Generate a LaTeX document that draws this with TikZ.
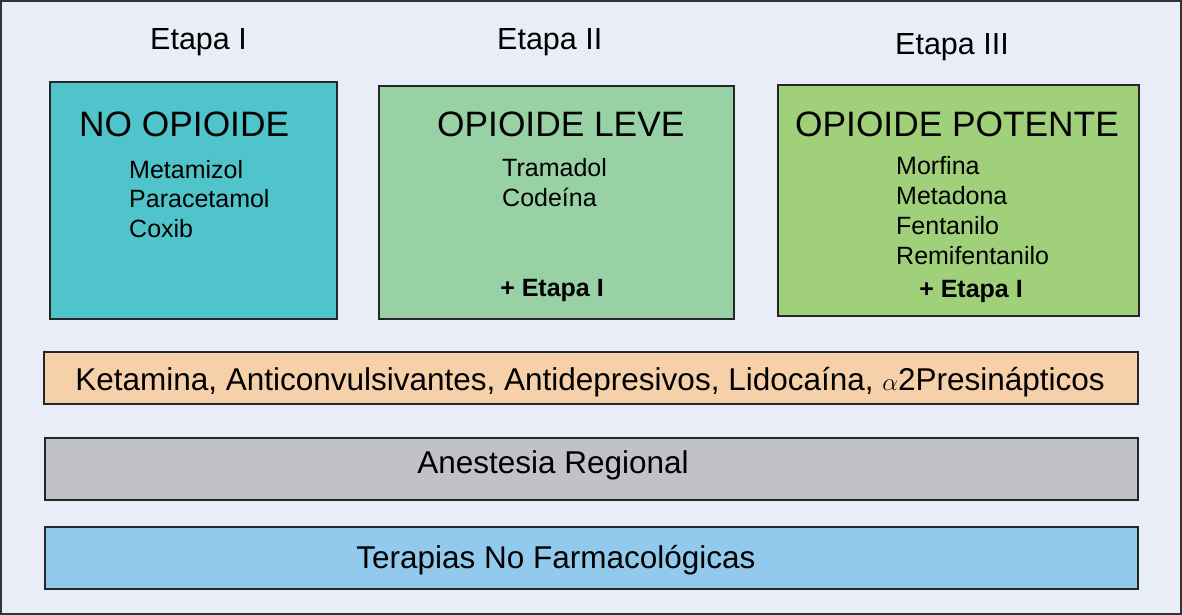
\documentclass[tikz,border=0pt]{standalone}
\usepackage{fontspec}
\setmainfont{Liberation Sans}
\usepackage{xcolor}
\usetikzlibrary{calc,positioning}
\definecolor{fondo}{HTML}{E8EDF7}
\definecolor{noopioide}{HTML}{50C4CB}
\definecolor{leve}{HTML}{98D2A4}
\definecolor{potente}{HTML}{A0D07A}
\definecolor{coadyuvante}{HTML}{F6D0A8}
\definecolor{regional}{HTML}{C0C2C8}
\definecolor{terapia}{HTML}{92CAEE}

\begin{document}
\begin{tikzpicture}[x=1pt,y=-1pt,
        caja/.style={draw=black!85,line width=1.8pt,inner sep=0pt,anchor=north west},
        etapa/.style={anchor=base west,inner sep=0pt,font=\fontsize{30.5}{36}\selectfont},
        titulo/.style={anchor=base west,inner sep=0pt,font=\fontsize{35.3}{42}\selectfont},
        lista/.style={anchor=base west,inner sep=0pt,font=\fontsize{25}{30}\selectfont},
        banda/.style={anchor=base,inner sep=0pt,font=\fontsize{31.5}{38}\selectfont}]
            \useasboundingbox (0,0) rectangle (1182,615);
            \draw[fill=fondo,draw=black!80,line width=2pt] (1,1) rectangle (1181,614);
            % etapas
            \node[etapa] (etapaI) at (150,50) {Etapa I};
            \node[etapa] (etapaII) at (497,50) {Etapa II};
            \node[etapa] (etapaIII) at (895,55) {Etapa III};
            % cajas de la escalera
            \node[caja,fill=noopioide,minimum width=287pt,minimum height=237pt] (noop) at (49,81) {};
            \node[caja,fill=leve,minimum width=355pt,minimum height=233pt] (leve) at (378,85) {};
            \node[caja,fill=potente,minimum width=361pt,minimum height=231pt] (potente) at (777,84) {};
            \node[titulo] (noop-t) at (79,136) {NO OPIOIDE};
            \node[titulo] (leve-t) at (437,136) {OPIOIDE LEVE};
            \node[titulo] (potente-t) at (795,136) {OPIOIDE POTENTE};
            \foreach \f [count=\i] in {Metamizol,Paracetamol,Coxib}{
                    \node[lista] (noop-\i) at (129,{148.5+29.5*\i}) {\f};}
            \foreach \f [count=\i] in {Tramadol,Codeína}{
                    \node[lista] (leve-\i) at (502,{146+30*\i}) {\f};}
            \foreach \f [count=\i] in {Morfina,Metadona,Fentanilo,Remifentanilo}{
                    \node[lista] (potente-\i) at (896,{144+30*\i}) {\f};}
            \node[lista,anchor=base] (leve-mas) at (552,296) {\bfseries + Etapa I};
            \node[lista,anchor=base] (potente-mas) at (971,297) {\bfseries + Etapa I};
            % bandas
            \node[caja,fill=coadyuvante,minimum width=1094pt,minimum height=52pt] (coady) at (43,351) {};
            \node[caja,fill=regional,minimum width=1093pt,minimum height=62pt] (regional) at (44,437) {};
            \node[caja,fill=terapia,minimum width=1093pt,minimum height=62pt] (terapia) at (44,526) {};
            \node[banda] (coady-t) at (590,390) {Ketamina, Anticonvulsivantes, Antidepresivos, Lidocaína, $\alpha$2Presinápticos};
            \node[banda] (regional-t) at (553,473) {Anestesia Regional};
            \node[banda] (terapia-t) at (556,568) {Terapias No Farmacológicas};
        \end{tikzpicture}
\end{document}
